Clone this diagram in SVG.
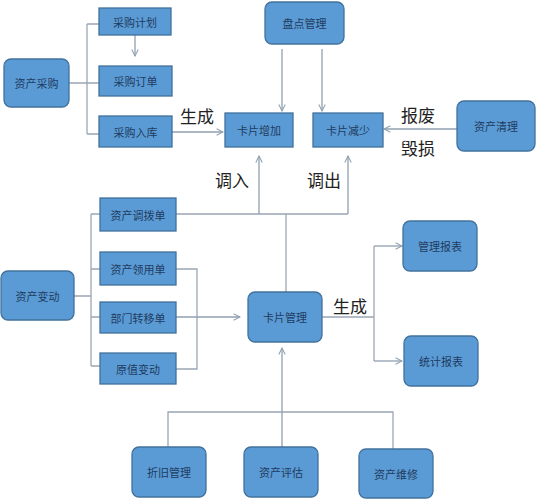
<svg xmlns="http://www.w3.org/2000/svg" width="536" height="500" viewBox="0 0 536 500">
<defs>
<marker id="arr" viewBox="0 0 10 10" refX="9" refY="5" markerWidth="8" markerHeight="8" markerUnits="userSpaceOnUse" orient="auto">
<path d="M1,1 L9,5 L1,9" fill="none" stroke="#8FA0B0" stroke-width="1.3"/>
</marker>
</defs>
<style>
.box{fill:#5B9BD5;stroke:#41719C;stroke-width:1.3}
.t{font-family:"Noto Sans CJK SC","Noto Sans",sans-serif;font-size:11px;fill:#1F3B60;text-anchor:middle;dominant-baseline:central}
.lbl{font-family:"Noto Sans CJK SC","Noto Sans",sans-serif;font-size:17px;fill:#222;text-anchor:middle;dominant-baseline:central}
.ln{fill:none;stroke:#9AA7B4;stroke-width:1.3}
.ar{fill:none;stroke:#8FA0B0;stroke-width:1.3;marker-end:url(#arr)}
</style>
<rect width="536" height="500" fill="#ffffff"/>
<g id="connectors">
<path class="ln" d="M69,83 H99 M87,24 V134 M87,24 H99 M87,134 H99"/>
<path class="ar" d="M135,35 V56"/>
<path class="ar" d="M172,132 H223"/>
<path class="ar" d="M282,49 V111"/>
<path class="ar" d="M322,49 V111"/>
<path class="ar" d="M457,129 H384"/>
<path class="ln" d="M176,214 H348 M286,214 V292"/>
<path class="ar" d="M259,214 V156"/>
<path class="ar" d="M348,214 V156"/>
<path class="ln" d="M74,296 H91 M91,214 V366 M91,214 H100 M91,269 H100 M91,317 H100 M91,366 H100"/>
<path class="ln" d="M176,269 H197 V369 H176"/>
<path class="ar" d="M176,317 H240"/>
<path class="ln" d="M322,317 H374 M374,246 V361"/>
<path class="ar" d="M374,246 H402"/>
<path class="ar" d="M374,361 H402"/>
<path class="ln" d="M168,447 V412 H393 V449"/>
<path class="ar" d="M282,447 V348"/>
<text class="lbl" x="197" y="115">生成</text>
<text class="lbl" x="232" y="179">调入</text>
<text class="lbl" x="418" y="114">报废</text>
<text class="lbl" x="418" y="147">毁损</text>
<text class="lbl" x="324" y="179">调出</text>
<text class="lbl" x="350" y="305">生成</text>
</g>
<g id="n-zccg"><rect class="box" x="4" y="59" width="65" height="48" rx="7"/><text class="t" x="36.5" y="83">资产采购</text></g>
<g id="n-cgjh"><rect class="box" x="99" y="8" width="72" height="27"/><text class="t" x="135" y="21.5">采购计划</text></g>
<g id="n-cgdd"><rect class="box" x="99" y="66" width="73" height="30"/><text class="t" x="135.5" y="81">采购订单</text></g>
<g id="n-cgrk"><rect class="box" x="99" y="116" width="73" height="31"/><text class="t" x="135.5" y="131.5">采购入库</text></g>
<g id="n-pdgl"><rect class="box" x="265" y="2" width="79" height="42" rx="7"/><text class="t" x="304.5" y="23">盘点管理</text></g>
<g id="n-kpzj"><rect class="box" x="225" y="113" width="68" height="34"/><text class="t" x="259" y="130">卡片增加</text></g>
<g id="n-kpjs"><rect class="box" x="313" y="113" width="70" height="34"/><text class="t" x="348" y="130">卡片减少</text></g>
<g id="n-zcql"><rect class="box" x="457" y="101" width="78" height="50" rx="7"/><text class="t" x="496" y="126">资产清理</text></g>
<g id="n-zcdbd"><rect class="box" x="100" y="198" width="76" height="33"/><text class="t" x="138" y="214.5">资产调拨单</text></g>
<g id="n-zclyd"><rect class="box" x="100" y="252" width="76" height="33"/><text class="t" x="138" y="268.5">资产领用单</text></g>
<g id="n-bmzyd"><rect class="box" x="100" y="302" width="76" height="31"/><text class="t" x="138" y="317.5">部门转移单</text></g>
<g id="n-yzbd"><rect class="box" x="100" y="353" width="76" height="31"/><text class="t" x="138" y="368.5">原值变动</text></g>
<g id="n-zcbd"><rect class="box" x="1" y="271" width="73" height="49" rx="7"/><text class="t" x="37.5" y="295.5">资产变动</text></g>
<g id="n-kpgl"><rect class="box" x="248" y="292" width="74" height="50" rx="7"/><text class="t" x="285" y="317">卡片管理</text></g>
<g id="n-glbb"><rect class="box" x="403" y="221" width="74" height="50" rx="7"/><text class="t" x="440" y="246">管理报表</text></g>
<g id="n-tjbb"><rect class="box" x="404" y="336" width="74" height="50" rx="7"/><text class="t" x="441" y="361">统计报表</text></g>
<g id="n-zjgl"><rect class="box" x="132" y="447" width="74" height="50" rx="7"/><text class="t" x="169" y="472">折旧管理</text></g>
<g id="n-zcpg"><rect class="box" x="244" y="447" width="74" height="50" rx="7"/><text class="t" x="281" y="472">资产评估</text></g>
<g id="n-zcwx"><rect class="box" x="359" y="449" width="74" height="49" rx="7"/><text class="t" x="396" y="473.5">资产维修</text></g>
</svg>
